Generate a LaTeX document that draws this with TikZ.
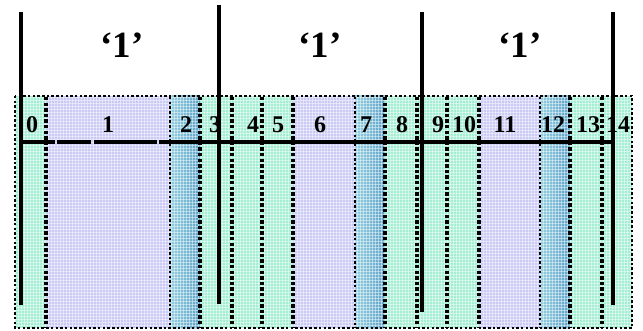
\documentclass[tikz,border=0pt]{standalone}
\usepackage{fontspec}
\setmainfont{Liberation Serif}
\usetikzlibrary{patterns}
\definecolor{cellgreen}{HTML}{A4EED4}
\definecolor{cellpurple}{HTML}{CACAF5}
\definecolor{cellblueA}{HTML}{94CFE0}
\definecolor{cellblueB}{HTML}{5CA2C8}
\begin{document}
\begin{tikzpicture}[x=1pt, y=-1pt,
    grn/.style={fill=cellgreen},
    pur/.style={fill=cellpurple},
    blu/.style={left color=cellblueA, right color=cellblueB},
    mesh/.style={pattern=grid, pattern color=white, opacity=0.45},
    num/.style={font=\fontsize{24}{24}\selectfont\bfseries, inner sep=0pt},
    bit/.style={font=\fontsize{37}{37}\selectfont\bfseries, inner sep=0pt},
    sep/.style={line width=3.4pt, dash pattern=on 3.4pt off 2.2pt},
    thinsep/.style={line width=2.5pt, dash pattern=on 2.5pt off 2.2pt},
    bar/.style={line width=3.2pt}
  ]
  \useasboundingbox (0,0) rectangle (643,331);
  % cells: left/right/kind/label/label x
  \foreach \l/\r/\k/\t/\lx in {15/46/grn/0/32, 46/170/pur/1/108, 170/200/blu/2/186,
      200/232/grn/3/215, 232/262/grn/4/253, 262/293/grn/5/278, 293/355/pur/6/320,
      355/385/blu/7/366, 385/417/grn/8/402, 417/447/grn/9/438, 447/479/grn/10/464,
      479/540/pur/11/505, 540/570/blu/12/553, 570/602/grn/13/588, 602/632/grn/14/618} {
    \fill[\k] (\l,96) rectangle (\r,328);
    \fill[mesh] (\l,96) rectangle (\r,328);
    \node[num] (n\t) at (\lx,125) {\t};
  }
  % cell borders
  \foreach \x in {46,200,232,262,293,385,417,447,479,570,602}
    \draw[sep] (\x,97) -- (\x,328);
  \foreach \x in {170,355,540}
    \draw[thinsep] (\x,97) -- (\x,328);
  \draw[thinsep] (15,96) rectangle (632,328);
  % bit frame
  \draw[bar] (21,142) -- (55,142);
  \draw[bar] (57,142) -- (91,142);
  \draw[bar] (94,142) -- (157,142);
  \draw[bar] (159,142) -- (613,142);
  \draw[bar] (21,12) -- (21,305);
  \draw[bar] (219,5) -- (219,304);
  \draw[bar] (422,12) -- (422,312);
  \draw[bar] (613,12) -- (613,305);
  \node[bit] (b1) at (122,45) {‘1’};
  \node[bit] (b2) at (320,45) {‘1’};
  \node[bit] (b3) at (520,45) {‘1’};
\end{tikzpicture}
\end{document}
